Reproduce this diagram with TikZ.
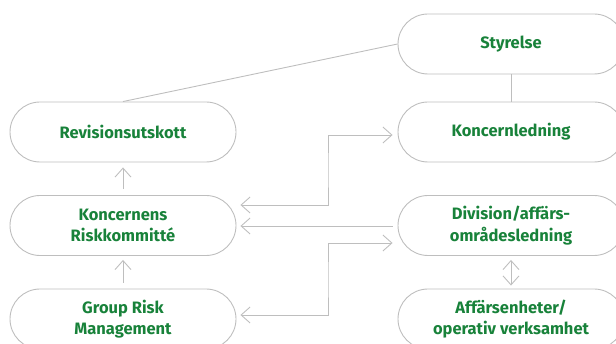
\documentclass[tikz,border=0pt]{standalone}
\usepackage{fontspec}
\setmainfont{Fira Sans}
\usepackage{xcolor}
\definecolor{riskgreen}{RGB}{24,130,58}
\definecolor{linegray}{RGB}{190,190,190}
\usepackage{tikz}
\usetikzlibrary{arrows.meta, positioning, calc}

\begin{document}
\begin{tikzpicture}[
    x=1pt, y=-1pt,
    font=\fontsize{16.5}{21.5}\selectfont\bfseries,
    pill/.style={draw=linegray, line width=0.9pt, rounded corners=30pt,
      minimum width=226pt, minimum height=60pt, align=center,
      text=riskgreen, inner sep=0pt},
    link/.style={draw=linegray, line width=0.9pt},
    arr/.style={link, -{Straight Barb[length=9pt,width=16pt]}},
    darr/.style={link, {Straight Barb[length=9pt,width=16pt]}-{Straight Barb[length=9pt,width=16pt]}}
  ]
  \useasboundingbox (0,0) rectangle (616,344);

  % Left column
  \node[pill] (revision) at (123,132) {Revisionsutskott};
  \node[pill] (riskkommitte) at (123,225.5) {Koncernens\\Riskkommitté};
  \node[pill] (grm) at (123,319) {Group Risk\\Management};

  % Right column
  \node[pill] (styrelse) at (511,44) {Styrelse};
  \node[pill] (koncernledning) at (511,132) {Koncernledning};
  \node[pill] (division) at (511,225.5) {Division/affärs-\\områdesledning};
  \node[pill] (affar) at (511,319) {Affärsenheter/\\operativ verksamhet};

  % Plain lines
  \draw[link] (styrelse.west) -- (revision.north);
  \draw[link] (styrelse.south) -- (koncernledning.north);

  % Vertical arrows
  \draw[arr, shorten <=6pt, shorten >=5pt] (riskkommitte.north) -- (revision.south);
  \draw[arr, shorten <=6pt, shorten >=4pt] (grm.north) -- (riskkommitte.south);
  \draw[darr, shorten <=4pt, shorten >=3pt] (division.south) -- (affar.north);

  % Cross arrows
  \draw[darr] ($(riskkommitte.east)+(4,-20.5)$) -| (328,170)
    |- ($(koncernledning.west)+(-5,3)$);
  \draw[arr] ($(division.west)+(-5,0.5)$) -- ($(riskkommitte.east)+(4,0.5)$);
  \draw[darr] ($(grm.east)+(4,-4)$) -| (328,280)
    |- ($(division.west)+(-5,17.5)$);

\end{tikzpicture}
\end{document}
